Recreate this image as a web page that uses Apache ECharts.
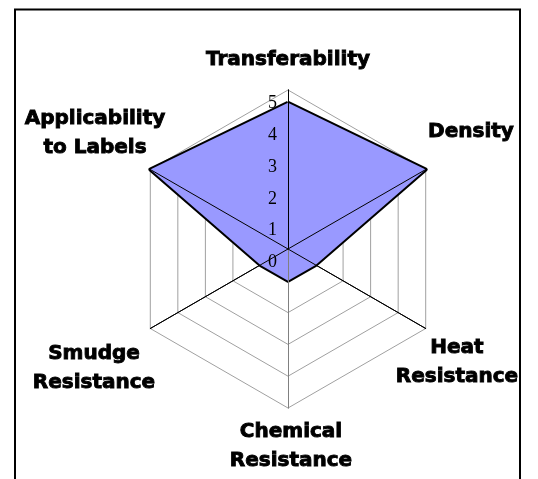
<!DOCTYPE html>
<html lang="en">
<head>
	<meta charset="UTF-8">
	<title>Radar</title>
	<script src="https://cdn.jsdelivr.net/npm/echarts@6/dist/echarts.min.js"></script>
	<style>
		html, body { margin: 0; padding: 0; background: #fff; }
		#container { width: 538px; height: 479px; }
	</style>
</head>
<body>
	<div id="container"></div>
	<script>
		// indicators in ECharts order (top first, then counter-clockwise)
		var names = [
			'Transferability',
			'Applicability\nto Labels',
			'Smudge\nResistance',
			'Chemical\nResistance',
			'Heat\nResistance',
			'Density'
		];
		var scores = [4.6, 5, 1, 1, 1, 5];
		var maxScore = 5;

		// where each name sits (same order as names)
		var namePos = [
			[288, 60],
			[95, 133],
			[94, 368],
			[291, 446],
			[457, 362],
			[471, 132]
		];

		var center = [288, 249];
		var labelCenter = [288, 262.5]; // tick labels sit a little below their rings
		var radius = 159;

		function makeIndicators(withLabels) {
			return names.map(function (n, i) {
				var ind = { name: n, min: 0, max: maxScore };
				if (withLabels && i === 0) {
					ind.axisLabel = {
						show: true,
						showMinLabel: true,
						showMaxLabel: true,
						fontFamily: 'Liberation Serif',
						fontSize: 18,
						color: '#000',
						margin: 11
					};
				}
				if (i === 3) {
					ind.axisLine = { lineStyle: { color: '#808080' } };
				}
				return ind;
			});
		}

		var baseRadar = {
			radius: radius,
			startAngle: 90,
			splitNumber: 5,
			shape: 'polygon',
			axisName: { show: false },
			splitArea: { show: false },
			axisTick: { show: false }
		};

		var myChart = echarts.init(document.getElementById('container'));
		var option = {
			animation: false,
			radar: [
				// rings, below the filled area
				Object.assign({}, baseRadar, {
					center: center,
					indicator: makeIndicators(false),
					splitLine: { lineStyle: { color: '#a0a0a0', width: 1 } },
					axisLine: { lineStyle: { color: '#000', width: 1 } },
					z: 0
				}),
				// spokes over the area
				Object.assign({}, baseRadar, {
					center: center,
					indicator: makeIndicators(false),
					splitLine: { show: false },
					axisLine: { lineStyle: { color: '#000', width: 1 } },
					z: 5
				}),
				// tick labels only
				Object.assign({}, baseRadar, {
					center: labelCenter,
					indicator: makeIndicators(true),
					splitLine: { show: false },
					axisLine: { show: false },
					z: 6
				})
			],
			series: [{
				type: 'radar',
				radarIndex: 0,
				symbol: 'none',
				z: 2,
				// the area covers the inner half of the stroke
				lineStyle: { color: '#000', width: 4 },
				areaStyle: { color: '#9999ff', opacity: 1 },
				data: [{
					value: scores,
					name: 'Score'
				}]
			}],
			graphic: names.map(function (n, i) {
				return {
					type: 'text',
					x: namePos[i][0],
					y: namePos[i][1],
					z: 10,
					style: {
						text: n,
						fill: '#000',
						stroke: '#000',
						lineWidth: 0.9,
						font: 'bold 20px "DejaVu Sans"',
						align: 'center',
						verticalAlign: 'middle',
						lineHeight: 29
					}
				};
			}).concat([{
				type: 'polyline',
				shape: { points: [[15, 480], [15, 9.5], [520, 9.5], [520, 480]] },
				style: { fill: null, stroke: '#000', lineWidth: 2 }
			}])
		};
		myChart.setOption(option);
	</script>
</body>
</html>
